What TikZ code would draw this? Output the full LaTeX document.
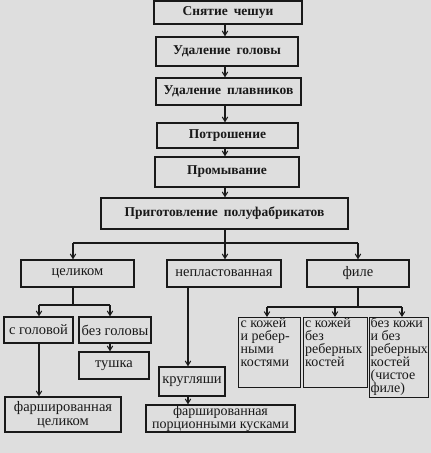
\documentclass[tikz,border=0pt]{standalone}
\usepackage{fontspec}
\setmainfont{Liberation Serif}
\usetikzlibrary{arrows.meta,calc}
\definecolor{bg}{gray}{0.87}
\definecolor{ink}{gray}{0.1}
\newcommand{\wsp}{\hspace{0.45em}}
\tikzset{
  box/.style={draw=ink, line width=1.3pt, rectangle, inner sep=0pt, text=ink},
  topbox/.style={box, font=\fontsize{13.5}{14}\selectfont\bfseries},
  lowbox/.style={box, font=\fontsize{14.5}{14}\selectfont, align=center},
  midbox/.style={box, font=\fontsize{14.5}{14}\selectfont, align=center},
  listbox/.style={box, anchor=north west, font=\fontsize{14}{13}\selectfont},
  conn/.style={draw=ink, line width=1.1pt},
  arr/.style={conn, -{Straight Barb[length=4.5pt,width=5.5pt,line width=1pt]}},
}
\begin{document}
\begin{tikzpicture}[x=1pt,y=-1pt]
\fill[bg] (0,0) rectangle (431,453);
\useasboundingbox (0,0) rectangle (431,453);
% top chain
\node[topbox, minimum width=148pt, minimum height=23pt] (b1) at (228,12.5) {Снятие\wsp чешуи};
\node[topbox, minimum width=142pt, minimum height=29pt] (b2) at (227,51.5) {Удаление\wsp головы};
\node[topbox, minimum width=145pt, minimum height=27pt] (b3) at (228.5,91.5) {Удаление\wsp плавников};
\node[topbox, minimum width=141pt, minimum height=25pt] (b4) at (227.5,135.5) {Потрошение};
\node[topbox, minimum width=144pt, minimum height=30pt] (b5) at (227,172) {Промывание};
\node[topbox, minimum width=247pt, minimum height=31pt] (b6) at (224.5,213.5) {Приготовление\wsp полуфабрикатов};
\coordinate (mx) at (225,0);
\draw[arr] (b1.south -| mx) -- (b2.north -| mx);
\draw[arr] (b2.south -| mx) -- (b3.north -| mx);
\draw[arr] (b3.south -| mx) -- (b4.north -| mx);
\draw[arr] (b4.south -| mx) -- (b5.north -| mx);
\draw[arr] (b5.south -| mx) -- (b6.north -| mx);
% second level
\node[midbox, minimum width=113pt, minimum height=27pt] (c1) at (77.5,273.5) {целиком};
\node[midbox, minimum width=114pt, minimum height=27pt] (c2) at (224,273.5) {непластованная};
\node[midbox, minimum width=102pt, minimum height=27pt] (c3) at (358,273.5) {филе};
\coordinate (j0) at (225,243);
\coordinate (jL) at (73,243);
\coordinate (jR) at (358,243);
\draw[conn] (b6.south -| j0) -- (j0);
\draw[conn] (jL) -- (jR);
\draw[arr] (jL) -- (jL |- c1.north);
\draw[arr] (j0) -- (j0 |- c2.north);
\draw[arr] (jR) -- (jR |- c3.north);
% whole fish branch
\node[lowbox, minimum width=69pt, minimum height=26pt] (d1) at (38.5,330) {с головой};
\node[lowbox, minimum width=72pt, minimum height=26pt] (d2) at (115,330) {без головы};
\node[lowbox, minimum width=116pt, minimum height=35pt] (e1) at (63,414.5) {фаршированная\\целиком};
\node[lowbox, minimum width=70pt, minimum height=27pt] (e2) at (114,365.5) {тушка};
\coordinate (k0) at (73,305);
\coordinate (kL) at (39,305);
\coordinate (kR) at (110,305);
\draw[conn] (c1.south -| k0) -- (k0);
\draw[conn] (kL) -- (kR);
\draw[arr] (kL) -- (kL |- d1.north);
\draw[arr] (kR) -- (kR |- d2.north);
\draw[arr] (d1.south -| kL) -- (e1.north -| kL);
\draw[arr] (d2.south -| kR) -- (e2.north -| kR);
% unfilleted branch
\node[lowbox, minimum width=66pt, minimum height=29pt] (f1) at (192,381.5) {кругляши};
\node[lowbox, font=\fontsize{14}{13}\selectfont, minimum width=149pt, minimum height=27pt] (f2) at (220.5,418.5) {фаршированная\\порционными кусками};
\coordinate (mx2) at (188,0);
\draw[arr] (c2.south -| mx2) -- (f1.north -| mx2);
\draw[arr] (f1.south -| mx2) -- (f2.north -| mx2);
% fillet branch
\node[listbox] (g1) at (238,317)
  {\parbox[t][70pt][t]{62pt}{\raggedright\vspace{0pt}\hspace*{2pt}с кожей\\\hspace*{2pt}и ребер-\\\hspace*{2pt}ными\\\hspace*{2pt}костями}};
\node[listbox] (g2) at (303,317)
  {\parbox[t][70pt][t]{64pt}{\raggedright\vspace{0pt}\hspace*{1.5pt}с кожей\\\hspace*{1.5pt}без\\\hspace*{1.5pt}реберных\\\hspace*{1.5pt}костей}};
\node[listbox] (g3) at (369,317)
  {\parbox[t][80pt][t]{59pt}{\raggedright\vspace{0pt}\hspace*{1pt}без кожи\\\hspace*{1pt}и без\\\hspace*{1pt}реберных\\\hspace*{1pt}костей\\\hspace*{1pt}(чистое\\\hspace*{1pt}филе)}};
\coordinate (m0) at (358,307);
\coordinate (mL) at (267,307);
\coordinate (mM) at (335,307);
\coordinate (mR) at (402,307);
\draw[conn] (c3.south -| m0) -- (m0);
\draw[conn] (mL) -- (mR);
\draw[arr] (mL) -- (mL |- g1.north);
\draw[arr] (mM) -- (mM |- g2.north);
\draw[arr] (mR) -- (mR |- g3.north);
\end{tikzpicture}
\end{document}
